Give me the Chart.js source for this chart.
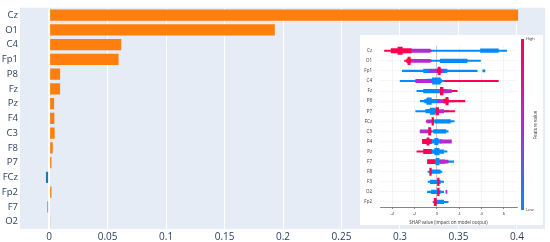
<!DOCTYPE html>
<html>
<head>
<meta charset="utf-8">
<script src="https://cdn.jsdelivr.net/npm/chart.js@4.4.1/dist/chart.umd.min.js"></script>
<style>
  html, body { margin: 0; padding: 0; background: #ffffff; }
  #wrap { position: relative; width: 550px; height: 242px; overflow: hidden; }
  #main { position: absolute; left: 0; top: 0; }
  #inset { position: absolute; left: 360px; top: 35px; background: #ffffff; }
  #cbar { position: absolute; left: 521px; top: 39px; width: 3px; height: 171px;
          background: linear-gradient(to bottom, #ff0052 0%, #b62ad0 50%, #008bfb 100%); }
  .cb { position: absolute; font-family: "Open Sans", sans-serif; font-size: 4px; color: #333; line-height: 4px; white-space: nowrap; }
  #cbh { left: 526px; top: 37px; }
  #cbl { left: 526px; top: 208px; }
  #cbt { left: 515px; top: 123px; width: 40px; text-align: center; transform: rotate(-90deg); transform-origin: 50% 50%; font-size: 4.5px; }
</style>
</head>
<body>
<div id="wrap">
  <canvas id="main" width="550" height="242"></canvas>
  <canvas id="inset" width="183" height="190"></canvas>
  <div id="cbar"></div>
  <div class="cb" id="cbh">High</div>
  <div class="cb" id="cbl">Low</div>
  <div class="cb" id="cbt">Feature value</div>
</div>
<script>
// ---------- main bar chart data ----------
const channels   = ['Cz','O1','C4','Fp1','P8','Fz','Pz','F4','C3','F8','P7','FCz','Fp2','F7','O2'];
const importance = [0.401, 0.193, 0.0617, 0.0594, 0.0094, 0.0094, 0.0043, 0.0045, 0.0047, 0.0031, 0.0020, -0.0027, 0.0020, -0.0014, 0.0010];
const xTicks     = [0, 0.05, 0.1, 0.15, 0.2, 0.25, 0.3, 0.35, 0.4];
const xTickLabels = ['0','0.05','0.1','0.15','0.2','0.25','0.3','0.35','0.4'];

// ---------- inset SHAP summary (approximate bands per feature) ----------
const shapFeatures = ['Cz','O1','Fp1','C4','Fz','P8','P7','FCz','C3','F4','Pz','F7','F8','F3','O2','Fp2'];
const shapTicks = [-4, -2, 0, 2, 4, 6];
const blueThin  = [[-0.5,6.25],[-0.5,3.9],[-3.1,3.6],[-3.3,0.9],[-1.8,1.8],[-1.5,1.5],[-1.9,1.0],[-0.3,1.55],[-0.5,1.0],[-1.3,1.0],[-0.5,0.9],[-0.3,1.5],[-0.8,0.45],[-0.8,0.6],[-0.85,0.6],[-0.35,1.0]];
const blueBlob  = [[3.9,5.5],[0.3,2.7],[-1.2,0.9],[-0.9,0.4],[-1.2,0.9],[-1.1,0.3],[-1.0,0.0],[-0.2,1.2],[-0.3,0.8],[-0.5,0.4],[-0.5,0.6],[-0.3,0.7],[-0.6,0.3],[-0.6,0.3],[-0.5,0.3],[-0.2,0.6]];
const bluePeak  = [null,null,null,[-0.4,0.3],null,[-0.9,-0.5],[-0.6,-0.2],null,null,[-0.2,0.1],[-0.2,0.2],[-0.1,0.2],null,null,null,null];
const blueDots  = [null,null,[4.1,4.3],null,null,null,null,null,null,null,null,null,null,null,null,null];
const pinkThin  = [[-4.7,-0.5],[-2.9,-0.5],null,[0.7,5.5],[0.5,1.8],[1.0,2.5],[0.2,1.6],[-0.95,-0.3],[-1.5,-0.5],null,[-1.8,-0.5],null,null,null,null,null];
const pinkBlob  = [[-4.1,-2.3],[-2.7,-2.3],[0.0,0.35],null,null,[0.6,1.0],null,null,null,[-1.3,-0.5],[-1.2,-0.5],[-0.85,-0.2],null,null,null,null];
const purpleMid = [[-2.3,-0.6],[-2.2,-0.6],[-0.7,0.6],[-1.9,-0.3],[0.6,1.3],[0.0,1.0],[0.0,0.6],[-0.9,-0.5],[-1.5,-0.7],[0.3,1.3],null,[0.3,1.0],null,null,[0.8,0.9],null];
const pinkPeak  = [[-3.5,-3.1],[-2.6,-2.4],[0.1,0.3],null,[0.3,0.55],[0.8,1.0],[-0.1,0.15],[-0.45,-0.3],[-0.75,-0.55],[-0.9,-0.7],null,null,[-0.65,-0.5],[0.05,0.2],[0.05,0.2],[-0.25,-0.05]];

const FONT = '"Open Sans", sans-serif';
const AXIS_COLOR = '#2a3f5f';

const plotBg = {
  id: 'plotBg',
  beforeDraw(chart, args, opts) {
    const a = chart.chartArea, c = chart.ctx;
    c.save();
    c.fillStyle = opts.color;
    c.fillRect(a.left, a.top, a.right - a.left, a.bottom - a.top);
    c.restore();
  }
};

new Chart(document.getElementById('main'), {
  type: 'bar',
  data: {
    labels: channels,
    datasets: [{
      data: importance,
      backgroundColor: importance.map(v => v < 0 ? '#1f77b4' : '#ff7f0e'),
      borderWidth: 0,
      barPercentage: 0.76,
      categoryPercentage: 1.0
    }]
  },
  options: {
    indexAxis: 'y',
    responsive: false,
    animation: false,
    layout: { padding: { top: 5, right: 5, left: 0, bottom: 0 } },
    plugins: { legend: { display: false }, tooltip: { enabled: false }, plotBg: { color: '#e5ecf6' } },
    scales: {
      x: {
        min: -0.0249, max: 0.424,
        afterBuildTicks: s => { s.ticks = xTicks.map(v => ({ value: v })); },
        afterFit: s => { s.height = 13; },
        ticks: { callback: (v, i) => xTickLabels[i], color: AXIS_COLOR, font: { family: FONT, size: 10 }, padding: 2, maxRotation: 0, autoSkip: false },
        grid: { color: '#ffffff', lineWidth: c => (c.tick && c.tick.value === 0) ? 2 : 1, drawTicks: false },
        border: { display: false }
      },
      y: {
        afterFit: s => { s.width = 20; },
        ticks: { color: AXIS_COLOR, font: { family: FONT, size: 9.5 }, padding: 2 },
        grid: { display: false, drawTicks: false },
        border: { display: false }
      }
    }
  },
  plugins: [plotBg]
});

// ---------- inset ----------
const BLUE = '#008bfb', PINK = '#ff0052', PURPLE = '#b32ad2';
function ds(data, color, thick, order) {
  return { data: data, backgroundColor: color, borderWidth: 0, barThickness: thick, grouped: false, order: order };
}
new Chart(document.getElementById('inset'), {
  type: 'bar',
  data: {
    labels: shapFeatures,
    datasets: [
      ds(blueThin, BLUE, 1.4, 9),
      ds(pinkThin, PINK, 1.4, 8),
      ds(blueBlob, BLUE, 3.6, 7),
      ds(blueDots, BLUE, 2, 7),
      ds(purpleMid, PURPLE, 3.2, 6),
      ds(pinkBlob, PINK, 4.2, 5),
      ds(bluePeak, BLUE, 6.5, 4),
      ds(pinkPeak, PINK, 7.5, 3)
    ]
  },
  options: {
    indexAxis: 'y',
    responsive: false,
    animation: false,
    layout: { padding: { top: 9, right: 26, left: 0, bottom: 0 } },
    plugins: { legend: { display: false }, tooltip: { enabled: false } },
    scales: {
      x: {
        min: -5.1, max: 7.17,
        afterBuildTicks: s => { s.ticks = shapTicks.map(v => ({ value: v })); },
        afterFit: s => { s.height = 18; },
        ticks: { color: '#333', font: { family: FONT, size: 4 }, padding: 2, maxRotation: 0, autoSkip: false },
        grid: { color: c => (c.tick && c.tick.value === 0) ? '#aaaaaa' : '#ececec', lineWidth: 0.6, drawTicks: true, tickLength: 2, tickColor: '#333' },
        border: { display: true, color: '#333', width: 0.6 },
        title: { display: true, text: 'SHAP value (impact on model output)', color: '#333', font: { family: FONT, size: 4.5 }, padding: { top: 1, bottom: 0 } }
      },
      y: {
        afterFit: s => { s.width = 20; },
        ticks: { color: '#333', font: { family: FONT, size: 4.5 }, padding: 8, autoSkip: false },
        grid: { offset: false, color: '#dcdcdc', lineWidth: 0.6, drawTicks: false },
        border: { display: false, dash: [1, 1.5] }
      }
    }
  }
});
</script>
</body>
</html>
